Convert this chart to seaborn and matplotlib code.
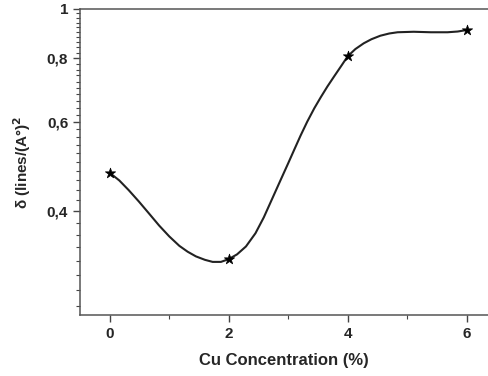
import numpy as np
import pandas as pd
import matplotlib
matplotlib.use("Agg")
import matplotlib.pyplot as plt
from matplotlib.ticker import FixedLocator, MultipleLocator, NullFormatter, FuncFormatter
import seaborn as sns

# measured points
cu = [0, 2, 4, 6]
delta = [0.476, 0.322, 0.807, 0.909]

# smooth connecting curve
curve_x = [0, 0.16, 0.32, 0.49, 0.66, 0.83, 1.0, 1.17, 1.31, 1.45, 1.6, 1.73,
           1.87, 2.0, 2.14, 2.29, 2.45, 2.59, 2.73, 2.87, 3.0, 3.1, 3.21,
           3.32, 3.44, 3.55, 3.66, 3.77, 3.9, 4.0, 4.13, 4.27, 4.4, 4.55,
           4.7, 4.84, 5.11, 5.4, 5.68, 5.85, 6.0]
curve_y = [0.476, 0.460, 0.440, 0.418, 0.396, 0.375, 0.357, 0.342, 0.333,
           0.326, 0.321, 0.318, 0.318, 0.322, 0.329, 0.341, 0.362, 0.389,
           0.423, 0.460, 0.497, 0.528, 0.564, 0.600, 0.638, 0.671, 0.704,
           0.736, 0.775, 0.807, 0.834, 0.856, 0.872, 0.886, 0.895, 0.900,
           0.902, 0.900, 0.900, 0.903, 0.909]

ytick_vals = [0.4, 0.6, 0.8, 1.0]
xtick_vals = [0, 2, 4, 6]

sns.set_style("ticks")
plt.rcParams["font.family"] = ["Liberation Sans", "DejaVu Sans"]

df_pts = pd.DataFrame({"x": cu, "y": delta})
df_curve = pd.DataFrame({"x": curve_x, "y": curve_y})

fig = plt.figure(figsize=(4.88, 3.76), dpi=100)
ax = fig.add_axes([80/488, 61/376, 408/488, 306/376])

sns.lineplot(data=df_curve, x="x", y="y", ax=ax, color="#222222",
             lw=1.5, sort=False, estimator=None)
ax.lines[0].set_solid_joinstyle("round")
sns.scatterplot(data=df_pts, x="x", y="y", ax=ax, marker="*", s=60,
                color="black", edgecolor="black", linewidth=0.5, zorder=5)

ax.set_yscale("log")
ax.set_ylim(0.25, 1.0)
ax.set_xlim(-0.5, 6.36)

ax.yaxis.set_major_locator(FixedLocator(ytick_vals))
ax.yaxis.set_minor_locator(MultipleLocator(0.02))
ax.yaxis.set_minor_formatter(NullFormatter())
ax.yaxis.set_major_formatter(FuncFormatter(
    lambda v, p: "1" if abs(v - 1) < 1e-9 else ("%.1f" % v).replace(".", ",")))
ax.xaxis.set_major_locator(FixedLocator(xtick_vals))
ax.xaxis.set_minor_locator(MultipleLocator(1))

ax.tick_params(which="major", direction="out", length=5, width=1,
               color="#444444", labelsize=11)
ax.tick_params(which="minor", direction="out", length=3, width=0.8,
               color="#444444")
for lab in ax.get_xticklabels() + ax.get_yticklabels():
    lab.set_fontweight("bold")

for side in ["left", "bottom", "top"]:
    ax.spines[side].set_color("#555555")
    ax.spines[side].set_linewidth(1.1)
ax.spines["right"].set_visible(False)

ax.set_xlabel("Cu Concentration (%)", fontsize=12, fontweight="bold", labelpad=9)
ax.set_ylabel("δ (lines/(A°)$^{\\mathbf{2}}$", fontsize=11, fontweight="bold",
              labelpad=10)

fig.savefig("out.png", dpi=100)
